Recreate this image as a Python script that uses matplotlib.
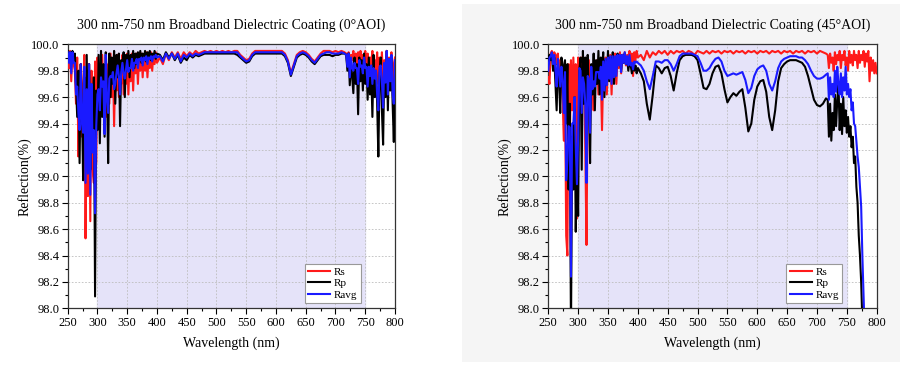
import numpy as np
import matplotlib
matplotlib.use("Agg")
import matplotlib.pyplot as plt
from matplotlib.patches import Rectangle
from matplotlib.ticker import MultipleLocator

plt.rcParams['font.family'] = ['Liberation Serif', 'DejaVu Serif']

# wavelength grid (nm): dense where the spectra are noisy
wl_a = np.arange(250, 401, 2)
wl_b = np.arange(405, 716, 5)
wl_c = np.arange(718, 801, 2)
wl = np.concatenate([wl_a, wl_b, wl_c])

# ---- 0 deg AOI ----
rs0_a = [99.93, 99.82, 99.95, 99.72, 99.94, 99.85, 99.80, 99.55, 99.90, 99.15,
         99.60, 99.85, 99.30, 99.70, 99.92, 98.53, 99.40, 98.85, 99.85, 98.66,
         99.80, 99.05, 98.95, 99.87, 99.10, 99.90, 99.40, 99.75, 99.55, 99.92,
         99.60, 99.33, 99.90, 99.45, 99.85, 99.55, 99.93, 99.60, 99.88, 99.38,
         99.85, 99.65, 99.92, 99.60, 99.85, 99.70, 99.92, 99.62, 99.88, 99.70,
         99.93, 99.62, 99.88, 99.72, 99.93, 99.65, 99.90, 99.78, 99.93, 99.70,
         99.90, 99.80, 99.93, 99.75, 99.92, 99.80, 99.94, 99.75, 99.90, 99.82,
         99.94, 99.80, 99.92, 99.85, 99.94, 99.86]
rs0_b = [99.90, 99.85, 99.93, 99.88, 99.94, 99.90, 99.94, 99.89, 99.94, 99.91,
         99.94, 99.92, 99.95, 99.93, 99.94, 99.95, 99.94, 99.95, 99.94, 99.95,
         99.94, 99.95, 99.94, 99.95, 99.94, 99.95, 99.95, 99.92, 99.90, 99.88,
         99.89, 99.93, 99.95, 99.95, 99.95, 99.95, 99.95, 99.95, 99.95, 99.95,
         99.95, 99.95, 99.93, 99.88, 99.78, 99.85, 99.92, 99.94, 99.95, 99.94,
         99.92, 99.89, 99.87, 99.90, 99.93, 99.95, 99.95, 99.95, 99.94, 99.95,
         99.94, 99.95, 99.94]
rs0_c = [99.93, 99.85, 99.94, 99.80, 99.92, 99.88, 99.95, 99.82, 99.93, 99.78,
         99.94, 99.85, 99.95, 99.80, 99.92, 99.86, 99.95, 99.80, 99.93, 99.75,
         99.90, 99.85, 99.95, 99.72, 99.88, 99.80, 99.94, 99.70, 99.90, 99.78,
         99.94, 99.72, 99.88, 99.82, 99.95, 99.75, 99.90, 99.80, 99.94, 99.70,
         99.85, 99.90]

rp0_a = [99.95, 99.90, 99.94, 99.85, 99.95, 99.88, 99.93, 99.70, 99.45, 99.80,
         99.10, 99.85, 99.50, 98.97, 99.75, 99.30, 99.92, 99.20, 99.85, 99.05,
         99.60, 99.30, 99.75, 98.09, 99.65, 99.35, 99.92, 99.25, 99.95, 99.45,
         99.85, 99.30, 99.94, 99.70, 99.10, 99.93, 99.60, 99.90, 99.70, 99.95,
         99.55, 99.92, 99.75, 99.93, 99.38, 99.88, 99.80, 99.94, 99.60, 99.92,
         99.80, 99.95, 99.75, 99.92, 99.85, 99.95, 99.82, 99.93, 99.85, 99.94,
         99.88, 99.95, 99.86, 99.93, 99.88, 99.95, 99.87, 99.94, 99.90, 99.95,
         99.88, 99.93, 99.90, 99.95, 99.89, 99.93]
rp0_b = [99.92, 99.88, 99.94, 99.90, 99.93, 99.88, 99.92, 99.86, 99.90, 99.88,
         99.92, 99.90, 99.92, 99.91, 99.92, 99.93, 99.93, 99.93, 99.93, 99.93,
         99.93, 99.93, 99.93, 99.93, 99.93, 99.93, 99.92, 99.90, 99.88, 99.86,
         99.87, 99.91, 99.93, 99.93, 99.93, 99.93, 99.93, 99.93, 99.93, 99.93,
         99.93, 99.93, 99.91, 99.86, 99.76, 99.83, 99.90, 99.92, 99.93, 99.92,
         99.90, 99.87, 99.85, 99.88, 99.91, 99.92, 99.92, 99.92, 99.91, 99.92,
         99.92, 99.93, 99.93]
rp0_c = [99.92, 99.80, 99.93, 99.69, 99.88, 99.75, 99.63, 99.90, 99.70, 99.85,
         99.47, 99.90, 99.72, 99.88, 99.65, 99.93, 99.70, 99.85, 99.58, 99.90,
         99.62, 99.82, 99.45, 99.92, 99.60, 99.80, 99.55, 99.15, 99.75, 99.90,
         99.50, 99.24, 99.85, 99.60, 99.95, 99.50, 99.88, 99.65, 99.90, 99.55,
         99.26, 99.85]

ravg0_a = [99.94, 99.86, 99.94, 99.78, 99.94, 99.86, 99.86, 99.62, 99.68, 99.48,
           99.35, 99.85, 99.40, 99.33, 99.83, 98.95, 99.66, 99.02, 99.85, 98.86,
           99.70, 99.18, 99.35, 98.72, 99.38, 99.62, 99.66, 99.50, 99.75, 99.68,
           99.72, 99.32, 99.92, 99.58, 99.48, 99.74, 99.76, 99.75, 99.79, 99.66,
           99.70, 99.78, 99.84, 99.76, 99.62, 99.79, 99.86, 99.78, 99.74, 99.81,
           99.88, 99.79, 99.82, 99.82, 99.89, 99.80, 99.86, 99.86, 99.89, 99.82,
           99.89, 99.88, 99.90, 99.84, 99.90, 99.88, 99.91, 99.85, 99.90, 99.89,
           99.91, 99.87, 99.91, 99.90, 99.92, 99.90]
ravg0_b = [99.91, 99.87, 99.93, 99.89, 99.93, 99.89, 99.93, 99.87, 99.92, 99.90,
           99.93, 99.91, 99.93, 99.92, 99.93, 99.94, 99.94, 99.94, 99.94, 99.94,
           99.94, 99.94, 99.94, 99.94, 99.94, 99.94, 99.94, 99.91, 99.89, 99.87,
           99.88, 99.92, 99.94, 99.94, 99.94, 99.94, 99.94, 99.94, 99.94, 99.94,
           99.94, 99.94, 99.92, 99.87, 99.77, 99.84, 99.91, 99.93, 99.94, 99.93,
           99.91, 99.88, 99.86, 99.89, 99.92, 99.93, 99.94, 99.94, 99.93, 99.93,
           99.93, 99.94, 99.93]
ravg0_c = [99.92, 99.83, 99.93, 99.75, 99.90, 99.82, 99.80, 99.86, 99.82, 99.82,
           99.70, 99.88, 99.83, 99.84, 99.78, 99.90, 99.82, 99.83, 99.68, 99.83,
           99.76, 99.84, 99.70, 99.82, 99.74, 99.80, 99.62, 99.50, 99.83, 99.84,
           99.72, 99.52, 99.86, 99.71, 99.95, 99.62, 99.89, 99.72, 99.92, 99.62,
           99.55, 99.88]

# ---- 45 deg AOI ----
rs45_a = [99.75, 99.70, 99.93, 99.95, 99.90, 99.94, 99.92, 99.85, 99.93, 99.80,
          99.88, 99.75, 99.60, 99.27, 99.70, 98.55, 98.40, 99.85, 99.20, 99.88,
          99.50, 99.90, 99.60, 99.85, 98.68, 99.90, 99.85, 99.70, 99.90, 99.55,
          99.85, 99.20, 98.48, 99.60, 99.88, 99.55, 99.80, 99.70, 99.50, 99.85,
          99.70, 99.88, 99.62, 99.85, 99.75, 99.35, 99.80, 99.70, 99.90, 99.62,
          99.85, 99.75, 99.92, 99.62, 99.88, 99.80, 99.93, 99.70, 99.90, 99.82,
          99.94, 99.78, 99.92, 99.86, 99.94, 99.84, 99.92, 99.88, 99.95, 99.84,
          99.93, 99.76, 99.94, 99.88, 99.95, 99.90]
rs45_b = [99.92, 99.88, 99.95, 99.90, 99.94, 99.92, 99.95, 99.93, 99.95, 99.92,
          99.95, 99.93, 99.95, 99.94, 99.95, 99.93, 99.95, 99.94, 99.92, 99.95,
          99.94, 99.93, 99.95, 99.93, 99.95, 99.94, 99.95, 99.93, 99.95, 99.94,
          99.95, 99.93, 99.95, 99.94, 99.95, 99.93, 99.95, 99.94, 99.95, 99.93,
          99.95, 99.94, 99.95, 99.93, 99.95, 99.94, 99.95, 99.93, 99.95, 99.94,
          99.95, 99.93, 99.95, 99.94, 99.95, 99.93, 99.95, 99.94, 99.95, 99.93,
          99.95, 99.94, 99.93]
rs45_c = [99.92, 99.82, 99.93, 99.86, 99.90, 99.80, 99.94, 99.85, 99.92, 99.88,
          99.95, 99.82, 99.92, 99.88, 99.95, 99.84, 99.90, 99.80, 99.95, 99.86,
          99.92, 99.84, 99.95, 99.88, 99.92, 99.82, 99.95, 99.86, 99.92, 99.88,
          99.95, 99.83, 99.93, 99.87, 99.95, 99.72, 99.90, 99.80, 99.88, 99.78,
          99.86, 99.78]

rp45_a = [99.85, 99.92, 99.88, 99.93, 99.80, 99.90, 99.70, 99.50, 99.85, 99.75,
          99.48, 99.90, 99.85, 99.70, 99.88, 99.40, 99.85, 98.90, 99.55, 97.80,
          99.30, 98.90, 99.60, 98.58, 99.20, 98.70, 99.80, 99.90, 99.05, 99.95,
          99.55, 99.90, 99.40, 99.92, 99.60, 99.10, 99.85, 99.62, 99.93, 99.50,
          99.88, 99.70, 99.95, 99.62, 99.90, 99.80, 99.94, 99.60, 99.88, 99.75,
          99.95, 99.72, 99.90, 99.78, 99.94, 99.70, 99.88, 99.82, 99.93, 99.85,
          99.90, 99.80, 99.92, 99.86, 99.93, 99.85, 99.90, 99.80, 99.88, 99.84,
          99.78, 99.85, 99.80, 99.84, 99.78, 99.82]
rp45_b = [99.78, 99.72, 99.55, 99.43, 99.62, 99.84, 99.82, 99.78, 99.82, 99.83,
          99.76, 99.65, 99.78, 99.88, 99.91, 99.92, 99.92, 99.92, 99.91, 99.88,
          99.78, 99.67, 99.66, 99.70, 99.78, 99.83, 99.84, 99.78, 99.66, 99.56,
          99.60, 99.63, 99.61, 99.64, 99.66, 99.52, 99.34, 99.40, 99.58, 99.68,
          99.72, 99.73, 99.64, 99.45, 99.35, 99.50, 99.72, 99.82, 99.85, 99.87,
          99.88, 99.88, 99.88, 99.87, 99.86, 99.83, 99.76, 99.67, 99.58, 99.54,
          99.53, 99.55, 99.59]
rp45_c = [99.58, 99.30, 99.55, 99.27, 99.48, 99.35, 99.62, 99.38, 99.58, 99.70,
          99.35, 99.55, 99.32, 99.60, 99.38, 99.50, 99.33, 99.45, 99.30, 99.38,
          99.22, 99.30, 99.10, 99.15, 98.92, 98.80, 98.55, 98.40, 98.20, 97.90,
          97.50, 97.20, 97.00, 96.90, 96.80, 96.70, 96.60, 96.50, 96.50, 96.40,
          96.40, 96.30]

ravg45_a = [99.80, 99.90, 99.91, 99.94, 99.85, 99.92, 99.81, 99.68, 99.89, 99.78,
            99.68, 99.83, 99.72, 99.48, 99.79, 98.97, 99.12, 99.38, 99.37, 98.24,
            99.40, 99.40, 99.60, 99.22, 98.94, 99.30, 99.82, 99.80, 99.48, 99.75,
            99.70, 99.55, 98.95, 99.76, 99.74, 99.33, 99.83, 99.66, 99.72, 99.68,
            99.79, 99.79, 99.79, 99.74, 99.83, 99.58, 99.87, 99.65, 99.89, 99.69,
            99.90, 99.74, 99.91, 99.70, 99.91, 99.75, 99.91, 99.76, 99.92, 99.84,
            99.92, 99.79, 99.92, 99.86, 99.94, 99.85, 99.91, 99.84, 99.92, 99.84,
            99.86, 99.81, 99.87, 99.86, 99.87, 99.86]
ravg45_b = [99.84, 99.80, 99.72, 99.66, 99.76, 99.87, 99.87, 99.86, 99.88, 99.88,
            99.85, 99.80, 99.85, 99.91, 99.93, 99.93, 99.93, 99.93, 99.92, 99.91,
            99.86, 99.80, 99.80, 99.82, 99.86, 99.89, 99.90, 99.87, 99.80, 99.76,
            99.77, 99.78, 99.77, 99.78, 99.79, 99.73, 99.63, 99.67, 99.76, 99.81,
            99.83, 99.84, 99.80, 99.70, 99.65, 99.72, 99.82, 99.87, 99.89, 99.90,
            99.91, 99.91, 99.91, 99.90, 99.90, 99.88, 99.85, 99.80, 99.76, 99.74,
            99.74, 99.75, 99.77]
ravg45_c = [99.78, 99.58, 99.75, 99.62, 99.70, 99.60, 99.80, 99.64, 99.83, 99.70,
            99.62, 99.78, 99.60, 99.75, 99.65, 99.83, 99.62, 99.70, 99.60, 99.66,
            99.50, 99.56, 99.40, 99.38, 99.27, 99.15, 99.07, 98.92, 98.77, 98.40,
            98.10, 97.80, 97.50, 97.30, 97.10, 97.00, 96.90, 96.80, 96.80, 96.70,
            96.70, 96.60]

panels = [
    ("300 nm-750 nm Broadband Dielectric Coating (0°AOI)",
     rs0_a + rs0_b + rs0_c, rp0_a + rp0_b + rp0_c, ravg0_a + ravg0_b + ravg0_c,
     [0.0752, 0.1576, 0.3637, 0.7213]),
    ("300 nm-750 nm Broadband Dielectric Coating (45°AOI)",
     rs45_a + rs45_b + rs45_c, rp45_a + rp45_b + rp45_c, ravg45_a + ravg45_b + ravg45_c,
     [0.6092, 0.1576, 0.3649, 0.7213]),
]

fig = plt.figure(figsize=(9, 3.66), dpi=100)
# faint grey card behind the right-hand chart
fig.patches.append(Rectangle((462 / 900, 4 / 366), 438 / 900, 358 / 366,
                             transform=fig.transFigure, facecolor='#f5f5f5',
                             edgecolor='none', zorder=-10))

for title, rs, rp, ravg, pos in panels:
    ax = fig.add_axes(pos)
    ax.set_facecolor('white')
    ax.axvspan(300, 750, color='#e5e3f9', zorder=0)
    ax.plot(wl, rs, color='#ff1a1a', lw=1.5, label='Rs', zorder=3)
    ax.plot(wl, rp, color='black', lw=1.5, label='Rp', zorder=3)
    ax.plot(wl, ravg, color='#1a1aff', lw=1.5, label='Ravg', zorder=3)

    ax.set_xlim(250, 800)
    ax.set_ylim(98.0, 100.0)
    ax.xaxis.set_major_locator(MultipleLocator(50))
    ax.xaxis.set_minor_locator(MultipleLocator(25))
    ax.yaxis.set_major_locator(MultipleLocator(0.2))
    ax.yaxis.set_minor_locator(MultipleLocator(0.1))
    ax.yaxis.set_major_formatter(plt.FormatStrFormatter('%.1f'))
    ax.tick_params(which='major', length=4, width=0.8, labelsize=9, pad=2)
    ax.tick_params(which='minor', length=2.5, width=0.8)
    ax.grid(True, which='major', color='#bdbdbd', ls=(0, (2, 2)), lw=0.6, zorder=1)
    ax.set_axisbelow(True)
    for sp in ax.spines.values():
        sp.set_color('#333333')
        sp.set_linewidth(0.9)

    ax.set_title(title, fontsize=10, pad=11)
    ax.set_xlabel('Wavelength (nm)', fontsize=10, labelpad=6)
    ax.set_ylabel('Reflection(%)', fontsize=10, labelpad=0)

    leg = ax.legend(loc='lower right', bbox_to_anchor=(0.895, 0.02), fontsize=8,
                    fancybox=False, framealpha=1, edgecolor='#999999',
                    handlelength=2.0, handletextpad=0.3, labelspacing=0.15,
                    borderpad=0.3, borderaxespad=0)
    leg.get_frame().set_linewidth(0.8)
    leg.set_zorder(5)

fig.savefig('out.png', dpi=100)
